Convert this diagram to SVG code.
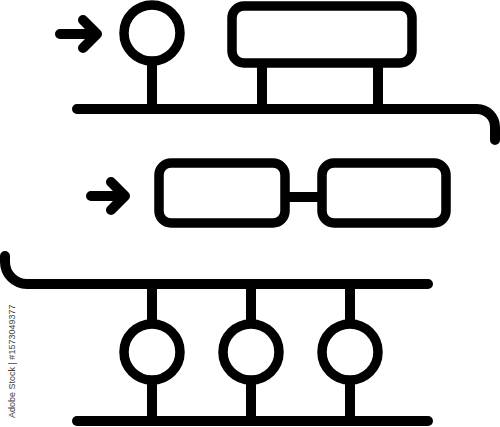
<svg xmlns="http://www.w3.org/2000/svg" width="500" height="427" viewBox="0 0 500 427">
<style>
.s{fill:none;stroke:#000;stroke-width:10;stroke-linecap:round;stroke-linejoin:round}
.c{fill:none;stroke:#000;stroke-width:9.5}
.r{fill:none;stroke:#000;stroke-width:9.5}
.wm{font-family:"Liberation Sans",Arial,sans-serif;font-size:9px;fill:#444}
</style>
<rect width="500" height="427" fill="#fff"/>
<g id="connectors">
<path class="s" d="M60,34 H95 M83,20 L97,34 L83,48"/>
<path class="s" d="M91,196 H124 M111,182 L125,196 L111,210"/>
<path class="s" d="M152,66 V109 M262,66 V109 M378,66 V109"/>
<path class="s" d="M77,109 H477 A18,18 0 0 1 495,127 V140"/>
<path class="s" d="M5,256 V262 A22,22 0 0 0 27,284 H428"/>
<path class="s" d="M152,284 V320 M251,284 V320 M350,284 V320"/>
<path class="s" d="M152,385 V421 M251,385 V421 M350,385 V421"/>
<path class="s" d="M77,421 H428"/>
<path class="s" d="M290,197 H318"/>
</g>
<g id="node-circle-top"><circle class="c" cx="152" cy="33" r="28"/></g>
<g id="node-rect-top"><rect class="r" x="232" y="6" width="180" height="57" rx="12"/></g>
<g id="node-rect-mid-left"><rect class="r" x="159" y="163" width="126" height="60" rx="12"/></g>
<g id="node-rect-mid-right"><rect class="r" x="322" y="163" width="124" height="60" rx="12"/></g>
<g id="node-circle-1"><circle class="c" cx="152" cy="352" r="28"/></g>
<g id="node-circle-2"><circle class="c" cx="251" cy="352" r="28"/></g>
<g id="node-circle-3"><circle class="c" cx="350" cy="352" r="28"/></g>
<text class="wm" transform="translate(15,418) rotate(-90)">Adobe Stock | #1573049377</text>
</svg>
